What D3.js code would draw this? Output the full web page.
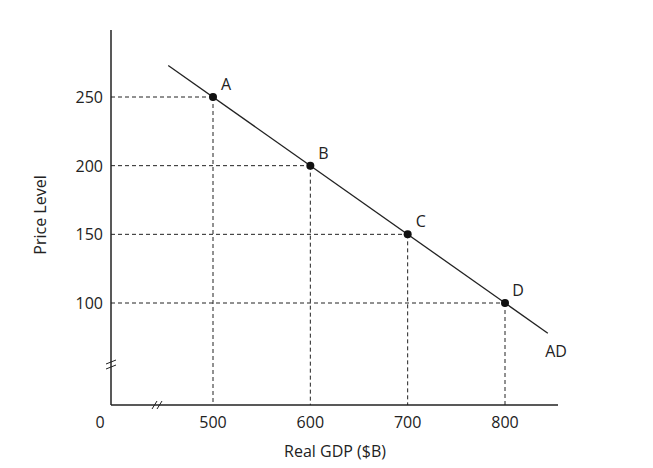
<!DOCTYPE html>
<html><head><meta charset="utf-8">
<script src="https://cdn.jsdelivr.net/npm/d3@7/dist/d3.min.js"></script>
<style>body{margin:0;background:#fff}text{font-family:"Open Sans",Arial,sans-serif;fill:#222}</style>
</head><body><svg id="c" width="653" height="468"></svg>
<script>
const xTicks=[500,600,700,800];
const yTicks=[100,150,200,250];
const points=[{l:"A",x:500,y:250},{l:"B",x:600,y:200},{l:"C",x:700,y:150},{l:"D",x:800,y:100}];
const adLine=[{x:454,y:273},{x:844,y:78}];
const svg=d3.select("#c");
const x=d3.scaleLinear().domain([500,800]).range([213,505]);
const y=d3.scaleLinear().domain([100,250]).range([303,97]);
const x0=111,y0=405;
// axes
svg.append("line").attr("x1",x0).attr("x2",x0).attr("y1",30).attr("y2",y0).attr("stroke","#222").attr("stroke-width",1.5);
svg.append("line").attr("x1",x0).attr("x2",558).attr("y1",y0).attr("y2",y0).attr("stroke","#222").attr("stroke-width",1.5);
// breaks
[[0,0],[0,5]].forEach(([a,b])=>{
 svg.append("line").attr("x1",x0-5).attr("x2",x0+5).attr("y1",364+b).attr("y2",360+b).attr("stroke","#222");
});
[0,5].forEach(b=>{
 svg.append("line").attr("x1",152+b).attr("x2",157+b).attr("y1",y0+4).attr("y2",y0-4).attr("stroke","#222");
});
// tick labels
svg.selectAll(".xt").data(xTicks).enter().append("text").attr("x",d=>x(d)).attr("y",y0+23).attr("text-anchor","middle").attr("font-size",16).text(d=>d);
svg.selectAll(".yt").data(yTicks).enter().append("text").attr("x",x0-8).attr("y",d=>y(d)+6).attr("text-anchor","end").attr("font-size",16).text(d=>d);
svg.append("text").attr("x",100).attr("y",y0+23).attr("text-anchor","middle").attr("font-size",16).text("0");
// dashed lines
points.forEach(p=>{
 svg.append("line").attr("x1",x0).attr("x2",x(p.x)).attr("y1",y(p.y)).attr("y2",y(p.y)).attr("stroke","#222").attr("stroke-dasharray","4,3");
 svg.append("line").attr("x1",x(p.x)).attr("x2",x(p.x)).attr("y1",y(p.y)).attr("y2",y0).attr("stroke","#222").attr("stroke-dasharray","4,3");
});
svg.append("line").attr("x1",x(adLine[0].x)).attr("y1",y(adLine[0].y)).attr("x2",x(adLine[1].x)).attr("y2",y(adLine[1].y)).attr("stroke","#222").attr("stroke-width",1.3);
svg.selectAll(".pt").data(points).enter().append("circle").attr("cx",d=>x(d.x)).attr("cy",d=>y(d.y)).attr("r",4).attr("fill","#111");
svg.selectAll(".pl").data(points).enter().append("text").attr("x",d=>x(d.x)+13).attr("y",d=>y(d.y)-7).attr("text-anchor","middle").attr("font-size",16).text(d=>d.l);
svg.append("text").attr("x",556).attr("y",357).attr("text-anchor","middle").attr("font-size",16).text("AD");
svg.append("text").attr("x",335).attr("y",457).attr("text-anchor","middle").attr("font-size",16).text("Real GDP ($B)");
svg.append("text").attr("transform","translate(46,215) rotate(-90)").attr("text-anchor","middle").attr("font-size",16).text("Price Level");
</script></body></html>
